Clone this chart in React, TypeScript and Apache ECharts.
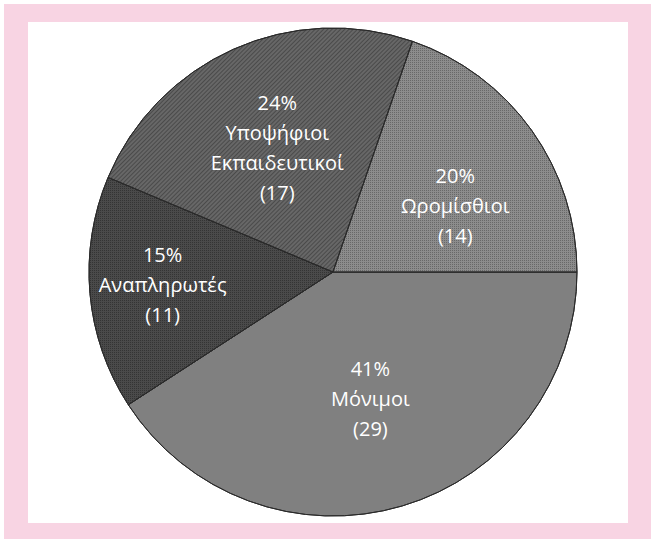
import React, { useEffect, useRef } from "react";
import * as echarts from "echarts";

const categories = ["Μόνιμοι", "Αναπληρωτές", "Υποψήφιοι\nΕκπαιδευτικοί", "Ωρομίσθιοι"];
const values = [29, 11, 17, 14];
const sliceColors = ["#808080", "#4a4a4a", "#676767", "#8c8c8c"];
const labelRadiusFraction = [0.54, 0.70, 0.56, 0.57];
const labelAngleShift = [0, -1, 0, -7];

const W = 654;
const H = 542;
const CX = 333;
const CY = 272;
const R = 244;

const decals: any[] = [
  { symbol: "none" },
  { symbol: "rect", symbolSize: 1, dashArrayX: [1, 1], dashArrayY: [1, 1], color: "rgba(25,25,25,0.45)" },
  { symbol: "rect", symbolSize: 1, dashArrayX: [1, 0], dashArrayY: [1, 2], rotation: -Math.PI / 4, color: "rgba(45,45,45,0.5)" },
  { symbol: "rect", symbolSize: 1, dashArrayX: [1, 1], dashArrayY: [1, 1], color: "rgba(60,60,60,0.45)" },
];

export default function App() {
  const ref = useRef<HTMLDivElement>(null);
  useEffect(() => {
    if (!ref.current) return;
    const chart = echarts.init(ref.current, undefined, { renderer: "svg" });
    const total = values.reduce((a, b) => a + b, 0);
    let a = 0;
    const labels: any[] = [];
    values.forEach((v, i) => {
      const span = (v / total) * 360;
      const mid = ((a - span / 2 + labelAngleShift[i]) * Math.PI) / 180;
      a -= span;
      const f = labelRadiusFraction[i];
      const pct = Math.round((v / total) * 100);
      labels.push({
        type: "text",
        x: CX + f * R * Math.cos(mid),
        y: CY - f * R * Math.sin(mid),
        z: 100,
        style: {
          text: `${pct}%\n${categories[i]}\n(${v})`,
          fill: "#ffffff",
          font: '20px "Open Sans", sans-serif',
          align: "center",
          verticalAlign: "middle",
          lineHeight: 30,
        },
      });
    });
    chart.setOption({
      animation: false,
      backgroundColor: "#ffffff",
      graphic: [
        { type: "rect", shape: { x: 0, y: 0, width: W, height: H }, style: { fill: "#ffffff" }, z: -10 },
        { type: "rect", shape: { x: 4, y: 4, width: 647, height: 535 }, style: { fill: "#f8d4e3" }, z: -9 },
        { type: "rect", shape: { x: 28, y: 22, width: 600, height: 501 }, style: { fill: "#ffffff" }, z: -8 },
        ...labels,
      ],
      series: [
        {
          type: "pie",
          center: [CX, CY],
          radius: R,
          startAngle: 0,
          clockwise: true,
          label: { show: false },
          labelLine: { show: false },
          emphasis: { disabled: true },
          itemStyle: { borderColor: "#2a2a2a", borderWidth: 1 },
          data: values.map((v, i) => ({
            name: categories[i],
            value: v,
            itemStyle: { color: sliceColors[i], decal: decals[i] },
          })),
        },
      ],
    });
    return () => chart.dispose();
  }, []);
  return <div ref={ref} style={{ position: "fixed", left: 0, top: 0, width: W, height: H }} />;
}
